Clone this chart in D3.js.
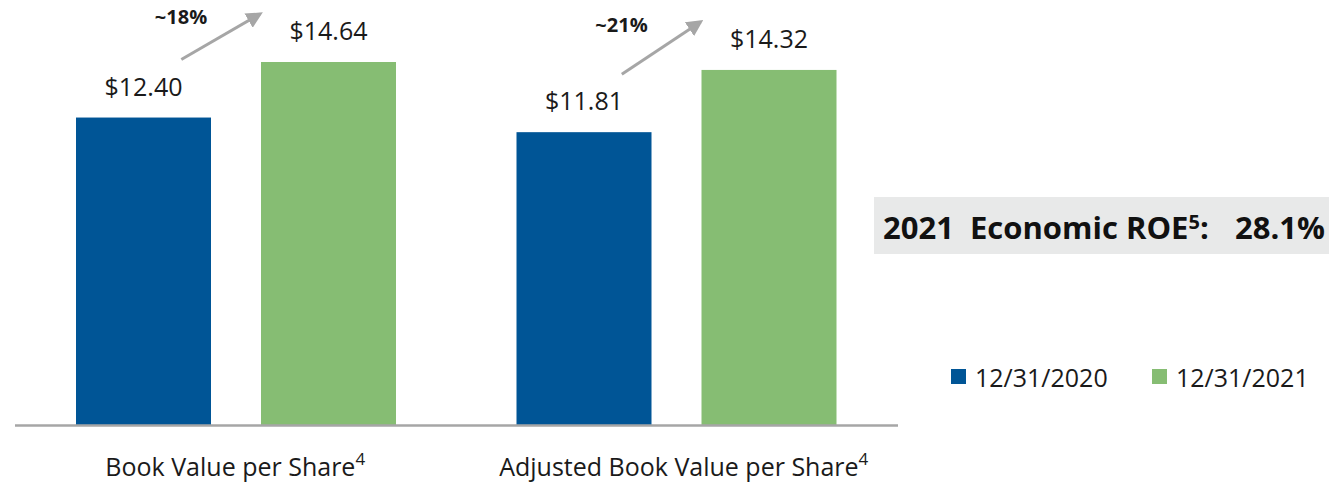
<!DOCTYPE html>
<html><head><meta charset="utf-8">
<script src="https://cdn.jsdelivr.net/npm/d3@7"></script>
<style>
html,body{margin:0;padding:0;background:#fff;}
svg{display:block;font-family:"Open Sans","Noto Sans",sans-serif;}
</style></head>
<body>
<svg id="chart" width="1342" height="483"></svg>
<script>
const categories = ["Book Value per Share", "Adjusted Book Value per Share"];
const catSup = ["4", "4"];
const seriesNames = ["12/31/2020", "12/31/2021"];
const values2020 = [12.40, 11.81];
const values2021 = [14.64, 14.32];
const valueLabels2020 = ["$12.40", "$11.81"];
const valueLabels2021 = ["$14.64", "$14.32"];
const growthLabels = ["~18%", "~21%"];
const colors = ["#005596", "#86bd73"];
const roeLabel = ["2021  Economic ROE", "5", ":"];
const roeValue = "28.1%";

const svg = d3.select("#chart");
const baseY = 425;
const y = d3.scaleLinear().domain([0, 14.64]).range([baseY, 62]);
const x0 = d3.scaleBand().domain(categories).range([16, 897]).paddingInner(0).paddingOuter(0);
const x1 = d3.scaleBand().domain(seriesNames).range([60, 380]).paddingInner(50/185).paddingOuter(0);
const color = d3.scaleOrdinal().domain(seriesNames).range(colors);

const rows = categories.map((c, i) => ({
  cat: c, i,
  bars: [
    {s: seriesNames[0], v: values2020[i], lab: valueLabels2020[i]},
    {s: seriesNames[1], v: values2021[i], lab: valueLabels2021[i]}
  ]
}));

const g = svg.selectAll("g.grp").data(rows).join("g")
  .attr("class", "grp")
  .attr("transform", d => `translate(${x0(d.cat)},0)`);

g.selectAll("rect").data(d => d.bars).join("rect")
  .attr("x", d => x1(d.s))
  .attr("y", d => y(d.v))
  .attr("width", x1.bandwidth())
  .attr("height", d => baseY - y(d.v))
  .attr("fill", d => color(d.s));

g.selectAll("text.val").data(d => d.bars).join("text")
  .attr("class", "val")
  .attr("x", d => x1(d.s) + x1.bandwidth() / 2)
  .attr("y", d => y(d.v) - 22)
  .attr("text-anchor", "middle")
  .attr("font-size", 25)
  .attr("fill", "#1a1a1a")
  .text(d => d.lab);

// arrows
const defs = svg.append("defs");
defs.append("marker").attr("id", "ah").attr("viewBox", "0 0 10 10")
  .attr("refX", 8).attr("refY", 5).attr("markerWidth", 5.5).attr("markerHeight", 5.5)
  .attr("orient", "auto").attr("markerUnits", "strokeWidth")
  .append("path").attr("d", "M0,0 L10,5 L0,10 z").attr("fill", "#a6a6a6");

g.each(function(d) {
  const gg = d3.select(this);
  const b0 = d.bars[0], b1 = d.bars[1];
  const xs = x1(b0.s) + x1.bandwidth() * 0.78;
  const ys = y(b0.v) - 58;
  const xe = x1(b1.s) - 1;
  const ye = y(b1.v) - 48;
  gg.append("line")
    .attr("x1", xs).attr("y1", ys).attr("x2", xe).attr("y2", ye)
    .attr("stroke", "#a6a6a6").attr("stroke-width", 3)
    .attr("marker-end", "url(#ah)");
  gg.append("text")
    .attr("x", (x1(b0.s) + x1.bandwidth()) - 30)
    .attr("y", y(b1.v) - 38)
    .attr("text-anchor", "middle")
    .attr("font-size", 20).attr("font-weight", "bold").attr("fill", "#1a1a1a")
    .text(growthLabels[d.i]);
});

// axis baseline
const axis = d3.axisBottom(x0).tickSize(0).tickFormat("");
svg.append("g").attr("transform", `translate(0,${baseY})`).call(axis)
  .call(s => s.select(".domain").attr("d", `M15,0.5H898`).attr("stroke", "#a6a6a6").attr("stroke-width", 2.5));

// category labels
svg.selectAll("text.cat").data(categories).join("text")
  .attr("class", "cat")
  .attr("x", (d, i) => x0(d) + x0.bandwidth() / 2 + (i === 0 ? -1 : 7))
  .attr("y", 476)
  .attr("text-anchor", "middle")
  .attr("font-size", 25).attr("fill", "#1a1a1a")
  .each(function(d, i) {
    const t = d3.select(this);
    t.append("tspan").text(d);
    t.append("tspan").attr("dy", -11).attr("font-size", 17).text(catSup[i]);
  });

// ROE box
svg.append("rect").attr("x", 874).attr("y", 197).attr("width", 455).attr("height", 57).attr("fill", "#e8e9e9");
const roe = svg.append("text").attr("x", 883).attr("y", 239)
  .attr("font-size", 31).attr("font-weight", "bold").attr("fill", "#111")
  .style("white-space", "pre");
roe.append("tspan").text(roeLabel[0]);
roe.append("tspan").attr("font-size", 20).attr("dy", -10).text(roeLabel[1]);
roe.append("tspan").attr("dy", 10).text(roeLabel[2]);
svg.append("text").attr("x", 1325).attr("y", 239).attr("text-anchor", "end")
  .attr("font-size", 31).attr("font-weight", "bold").attr("fill", "#111")
  .text(roeValue);

// legend
const leg = svg.selectAll("g.leg").data(seriesNames).join("g").attr("class", "leg")
  .attr("transform", (d, i) => `translate(${951 + i * 201},369)`);
leg.append("rect").attr("width", 15).attr("height", 15).attr("fill", d => color(d));
leg.append("text").attr("x", 24).attr("y", 18).attr("font-size", 25).attr("fill", "#1a1a1a").text(d => d);
</script>
</body></html>
